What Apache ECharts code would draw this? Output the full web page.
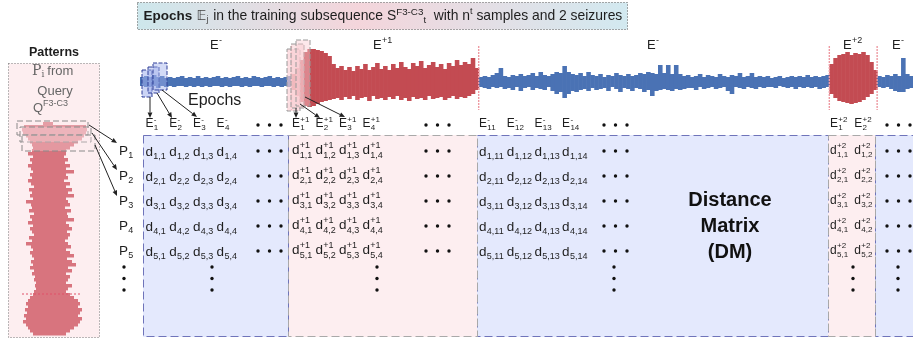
<!DOCTYPE html>
<html>
<head>
<meta charset="utf-8">
<script src="https://cdn.jsdelivr.net/npm/echarts@6.0.0/dist/echarts.min.js"></script>
<style>
  html, body { margin: 0; padding: 0; background: #fff; }
  #chart { width: 913px; height: 340px; }
</style>
</head>
<body>
<div id="chart"></div>
<script>
// ---- data ----
// EEG amplitude (up / down from baseline) per 4px sample, by segment
const interHi1 = [5,6,5,7,5,6,4,5,4,5,6,4,5,4,6,4,5,4,5,6,4,5,4,5,6,4,5,4,6,5,4,5,6,4,5,4,5,6];
const interLo1 = [4,5,5,4,6,4,5,4,5,4,4,5,4,5,4,5,4,5,4,4,5,4,5,4,4,5,4,5,4,4,5,4,4,5,4,5,4,5];
const seizureHi1 = [8,14,22,30,33,33,32,31,29,26,18,14,16,12,15,11,16,13,18,12,15,19,13,16,12,18,14,20,15,13,19,16,21,14,17,20,15,18,13,19,16,22,17,20,18,24,14];
const seizureLo1 = [8,14,20,24,25,24,22,20,19,18,17,16,18,15,17,14,18,16,15,19,14,17,16,18,15,17,14,18,16,19,15,17,16,18,14,17,16,15,18,16,14,17,15,16,14,12,8];
const interHi2 = [5,6,5,7,9,14,6,5,7,6,8,6,7,9,6,10,7,6,8,10,9,16,10,8,7,9,6,10,7,6,8,5,7,6,9,7,6,8,6,7,9,8,10,9,8,17,9,17,8,17,8,6,7,5,6,8,5,7,6,5,8,6,5,7,6,9,5,6,9,5,6,5,6,4,5,6,4,5,6,5,6,5,7,5,6,5,6,7];
const interLo2 = [5,6,7,5,6,5,7,6,8,5,9,6,5,8,6,7,8,5,9,12,10,16,12,9,10,8,7,9,6,8,7,6,9,5,7,10,6,7,9,6,7,10,8,14,9,8,7,8,9,7,8,7,6,6,8,5,7,6,5,7,6,5,9,12,5,6,7,5,6,7,5,6,5,5,6,4,5,6,5,7,5,6,5,6,5,7,6,5];
const seizureHi2 = [18,24,27,28,30,27,29,28,30,27,20,12];
const seizureLo2 = [12,16,19,20,21,22,21,20,18,15,12,8];
const interHi3 = [6,5,7,6,8,6,24,8,6];
const interLo3 = [5,6,5,7,9,10,10,7,6];

// query pattern (rotated), left / right extent per row
const patLeft = [35,16,14,15,18,20,22,24,25,24,20,25,22,24,20,23,25,22,24,20,23,26,21,24,22,25,18,23,24,21,26,22,24,20,25,22,24,26,21,24,18,23,25,22,24,26,23,25,22,26,24,27,26,28,27,28,26,25,22,20,18,20,17,19,16,18,15,18,20,22,25];
const patRight = [45,78,79,78,76,74,70,66,62,58,58,56,60,57,62,58,66,58,60,56,62,58,64,60,66,58,60,62,57,63,59,60,66,58,61,64,59,62,60,57,60,63,58,62,66,59,64,68,60,64,58,62,60,58,64,60,58,62,66,70,72,70,74,72,70,74,72,70,66,62,58];

// matrix labels
const rowIds = ['1', '2', '3', '4', '5'];
const groupSup = ['-', '+1', '-', '+2'];
const groupCols = [['1','2','3','4'], ['1','2','3','4'], ['11','12','13','14'], ['1','2']];
const groupSeizure = [false, true, false, true];
const segmentLabels = [['E', '-'], ['E', '+1'], ['E', '-'], ['E', '+2'], ['E', '-']];

// ---- styling / layout ----
const FONT = '"Liberation Sans", Arial, Helvetica, sans-serif';
const SERIF = '"DejaVu Serif", "Liberation Serif", serif';
const INK = '#1e1e1e';
const BLUE = '#4a72b4';
const RED = '#c34b52';
const MBLUE = '#e4e9fd', MPINK = '#fdeef0';
const BLUE_EDGE = '#6f74ba', GRAY_EDGE = '#a9a9a9';

const groupLayout = [
  { x0: 145.5, step: 23.7, dotsX: 258, vdotX: 212, x1: 143, x2: 288, dy: 0 },
  { x0: 292, step: 23.5, dotsX: 426, vdotX: 377, x1: 288, x2: 477, dy: -1.5 },
  { x0: 479, step: 27.7, dotsX: 604, vdotX: 614, x1: 477, x2: 828, dy: 0 },
  { x0: 830, step: 24.3, dotsX: 887, vdotX: 853, x1: 828, x2: 875, dy: -1.5 }
];
const rowY = [152, 177, 202, 227, 252];
const vdotY = [267, 278, 290];
const labelY = 124;
const matTop = 135, matBottom = 337;
const segLabelPos = [210, 373, 647, 843, 892];

// ---- build signal data ----
const signalSegs = [
  [interHi1, interLo1, 0], [seizureHi1, seizureLo1, 1], [interHi2, interLo2, 0],
  [seizureHi2, seizureLo2, 1], [interHi3, interLo3, 0]
];
const signalData = [];
const segStart = [];
signalSegs.forEach(([hi, lo, sz]) => {
  segStart.push(signalData.length);
  hi.forEach((h, k) => signalData.push([signalData.length, h, lo[k], sz]));
});
segStart.push(signalData.length);
const patternData = patLeft.map((l, i) => [i, l, patRight[i]]);

// ---- helpers ----
const mctx = document.createElement('canvas').getContext('2d');
function tw(t, size, weight, fam) {
  mctx.font = (weight || 'normal') + ' ' + size + 'px ' + (fam || FONT);
  return mctx.measureText(t).width;
}
function txt(x, y, t, size, color, o) {
  o = o || {};
  const al = o.align || 'left';
  return {
    type: 'text', x: x, y: y, z: o.z || 20, silent: true,
    style: {
      text: t, fontSize: size, fontFamily: o.family || FONT, fontWeight: o.weight || 'normal',
      fill: color || INK, align: al, verticalAlign: 'middle', textAlign: al, textVerticalAlign: 'middle'
    }
  };
}
function sym(x, y, base, sup, sub, o) {
  o = o || {};
  const bs = o.size || 13, ss = o.ss || 9, col = o.color || INK, fam = o.family || FONT;
  const w = tw(base, bs, 'normal', fam);
  const els = [txt(x, y, base, bs, col, { family: fam })];
  if (sup) els.push(txt(x + w + 0.3, y - bs * 0.36, sup, ss, col));
  if (sub) els.push(txt(x + w + 0.3, y + bs * 0.34, sub, ss, col));
  return els;
}
function seq(x, y, parts) {
  const els = [];
  parts.forEach(p => {
    const size = p.size || 13;
    els.push(txt(x, y + (p.dy || 0), p.t, size, p.color || INK, { weight: p.weight, family: p.family }));
    x += tw(p.t, size, p.weight, p.family) + (p.gap || 0);
  });
  return els;
}
function arrow(x1, y1, x2, y2) {
  const a = Math.atan2(y2 - y1, x2 - x1), L = 5.5, W = 2.4;
  const bx = x2 - L * Math.cos(a), by = y2 - L * Math.sin(a);
  return [
    { type: 'line', z: 25, silent: true, shape: { x1: x1, y1: y1, x2: bx, y2: by }, style: { stroke: '#222', lineWidth: 1 } },
    { type: 'polygon', z: 25, silent: true, shape: { points: [[x2, y2], [bx - W * Math.sin(a), by + W * Math.cos(a)], [bx + W * Math.sin(a), by - W * Math.cos(a)]] }, style: { fill: '#222' } }
  ];
}
function dots(x, y, horizontal) {
  return [0, 1, 2].map(k => ({
    type: 'circle', z: 20, silent: true,
    shape: { cx: horizontal ? x + k * 11.5 : x, cy: horizontal ? y : y + k * 11.5, r: 1.7 },
    style: { fill: '#111' }
  }));
}
function box(x, y, w, h, fill, stroke, dash, z) {
  return { type: 'rect', z: z || 5, silent: true, shape: { x: x, y: y, width: w, height: h },
    style: { fill: fill, stroke: stroke, lineWidth: 1, lineDash: dash || null } };
}

const chart = echarts.init(document.getElementById('chart'), null, { renderer: 'canvas' });

chart.setOption({
  animation: false,
  grid: [
    { left: 140, top: 32, width: 773, height: 100 },
    { left: 8, top: 122, width: 90, height: 213 }
  ],
  xAxis: [
    { gridIndex: 0, type: 'value', min: 0, max: signalData.length, show: false },
    { gridIndex: 1, type: 'value', min: 0, max: 90, show: false }
  ],
  yAxis: [
    { gridIndex: 0, type: 'value', min: -50, max: 50, show: false },
    { gridIndex: 1, type: 'value', min: 0, max: patternData.length, inverse: true, show: false }
  ],
  series: [
    {
      type: 'custom', xAxisIndex: 0, yAxisIndex: 0, z: 3,
      data: signalData,
      renderItem: function (params, api) {
        const i = api.value(0);
        const p1 = api.coord([i, api.value(1)]);
        const p2 = api.coord([i + 1, -api.value(2)]);
        return { type: 'rect', shape: { x: p1[0], y: p1[1], width: p2[0] - p1[0] + 0.6, height: p2[1] - p1[1] },
          style: { fill: api.value(3) ? RED : BLUE } };
      }
    },
    {
      type: 'custom', xAxisIndex: 1, yAxisIndex: 1, z: 3,
      data: patternData,
      renderItem: function (params, api) {
        const i = api.value(0);
        const p1 = api.coord([api.value(1), i]);
        const p2 = api.coord([api.value(2), i + 1]);
        return { type: 'rect', shape: { x: p1[0], y: p1[1], width: p2[0] - p1[0], height: p2[1] - p1[1] + 0.4 },
          style: { fill: '#d8747e' } };
      }
    }
  ]
});

// ---- annotations ----
const g = [];

// title
g.push({
  type: 'rect', z: 1, silent: true, shape: { x: 137.5, y: 2.5, width: 490, height: 27 },
  style: {
    fill: new echarts.graphic.LinearGradient(0, 0, 1, 0, [
      { offset: 0, color: '#cde7ec' }, { offset: 0.45, color: '#f4d5db' }, { offset: 1, color: '#d2e9f0' }
    ]),
    stroke: '#555', lineWidth: 1, lineDash: [1, 2]
  }
});
g.push(...seq(143.5, 16, [
  { t: 'Epochs', weight: 'bold', size: 13.5 },
  { t: ' 𝔼', size: 13.5, color: '#444', family: '"DejaVu Sans", sans-serif' },
  { t: 'j', size: 8.5, dy: 4, color: '#444', gap: 1 },
  { t: ' in the training subsequence S', size: 13.9 },
  { t: 'F3-C3', size: 9.8, dy: -4 },
  { t: 't', size: 9.5, dy: 4 },
  { t: '  with n', size: 13.9 },
  { t: 't', size: 9, dy: -4 },
  { t: ' samples and 2 seizures', size: 13.9 }
]));

// seizure boundaries on signal
const boundaryIdx = [segStart[1], segStart[2], segStart[3], segStart[4]];
boundaryIdx.forEach(idx => {
  const px = chart.convertToPixel({ gridIndex: 0 }, [idx, 0])[0];
  g.push({ type: 'line', z: 8, silent: true, shape: { x1: px, y1: 46, x2: px, y2: 110 },
    style: { stroke: '#ee9aa2', lineWidth: 1.4, lineDash: [2, 1] } });
});

// segment labels above the signal
segmentLabels.forEach((s, k) => g.push(...sym(segLabelPos[k], 45, s[0], s[1], null, { size: 13, ss: 9 })));
g.push(txt(188, 101, 'Epochs', 16, INK));

// epoch windows on the signal
g.push(box(142, 70, 10, 27, 'rgba(160,176,236,0.55)', '#2f3e98', [4, 1.5], 9));
g.push(box(148, 67, 11, 26, 'rgba(160,176,236,0.45)', '#2f3e98', [4, 1.5], 9));
g.push(box(153, 63, 14, 27, 'rgba(160,176,236,0.45)', '#2f3e98', [4, 1.5], 9));
g.push(box(287, 49, 13, 62, 'rgba(250,205,210,0.65)', '#9a9a9a', [5, 2], 9));
g.push(box(291, 44, 13, 64, 'rgba(250,205,210,0.55)', '#9a9a9a', [5, 2], 9));
g.push(box(296, 40, 14, 66, 'rgba(250,205,210,0.45)', '#9a9a9a', [5, 2], 9));
g.push(...arrow(150, 97, 150, 118));
g.push(...arrow(157, 93, 172, 118));
g.push(...arrow(162, 90, 197, 117));
g.push(...arrow(296, 108, 296, 118));
g.push(...arrow(300, 104, 320, 118));
g.push(...arrow(305, 97, 345, 117));

// left panel: patterns from query
g.push(txt(54, 53, 'Patterns', 12.5, INK, { weight: 'bold', align: 'center' }));
g.push(box(8.5, 63.5, 91, 274, MPINK, '#777', [1, 2], 1));
g.push(...seq(32, 71, [
  { t: 'P', size: 14, family: SERIF, color: '#666' },
  { t: 'i', size: 9, dy: 4, family: SERIF, color: '#666', gap: 3 },
  { t: 'from', size: 13, color: '#666' }
]));
g.push(txt(55, 91, 'Query', 13, '#666', { align: 'center' }));
g.push(...seq(33, 108, [
  { t: 'Q', size: 13, color: '#666' },
  { t: 'F3-C3', size: 9, dy: -4, color: '#666' }
]));
g.push(box(17, 121, 71, 14, 'rgba(255,236,239,0.35)', '#8a8a8a', [6, 3], 9));
g.push(box(20, 127, 71, 15, 'rgba(255,236,239,0.30)', '#8a8a8a', [6, 3], 9));
g.push(box(22, 135, 73, 16, 'rgba(255,236,239,0.30)', '#8a8a8a', [6, 3], 9));
g.push({ type: 'line', z: 9, silent: true, shape: { x1: 22, y1: 294, x2: 82, y2: 294 },
  style: { stroke: '#e05068', lineWidth: 1, lineDash: [2, 2] } });
g.push(...arrow(89, 125, 117, 143));
g.push(...arrow(92, 133, 117, 170));
g.push(...arrow(95, 145, 117, 196));

// distance matrix regions
const regions = groupLayout.map((L, k) => [L.x1, L.x2, groupSeizure[k]]);
regions.push([875, 914, false]);
regions.forEach(([x1, x2, sz]) => g.push(box(x1, matTop, x2 - x1, matBottom - matTop, sz ? MPINK : MBLUE, null, null, 2)));
regions.forEach(([x1, x2, sz]) => g.push(box(x1 + 0.5, matTop + 0.5, x2 - x1, matBottom - matTop - 1, null,
  sz ? GRAY_EDGE : BLUE_EDGE, [8, 4], sz ? 4 : 3)));

// row labels
rowIds.forEach((r, j) => g.push(...sym(119, rowY[j] - 1, 'P', null, r, { size: 13.5, ss: 9 })));
g.push(...dots(124, vdotY[0], false));

// columns and cells
groupCols.forEach((cols, k) => {
  const L = groupLayout[k];
  const sz = groupSeizure[k];
  const small = k === 3;
  cols.forEach((c, m) => {
    const x = L.x0 + m * L.step;
    g.push(...sym(x, labelY, 'E', groupSup[k], c, { size: 12, ss: 8 }));
    rowIds.forEach((r, j) => {
      g.push(...sym(x, rowY[j] + L.dy, 'd', sz ? groupSup[k] : null, r + ',' + c,
        { size: small ? 12 : 13.5, ss: small ? 8 : 9 }));
    });
  });
  g.push(...dots(L.dotsX, labelY + 1, true));
  rowIds.forEach((r, j) => g.push(...dots(L.dotsX, rowY[j] - 1, true)));
  g.push(...dots(L.vdotX, vdotY[0], false));
});
g.push(...dots(898, vdotY[0], false));

// matrix title
g.push(txt(730, 200, 'Distance', 20, '#111', { weight: 'bold', align: 'center' }));
g.push(txt(730, 226, 'Matrix', 20, '#111', { weight: 'bold', align: 'center' }));
g.push(txt(730, 252, '(DM)', 20, '#111', { weight: 'bold', align: 'center' }));

chart.setOption({ graphic: { elements: g } });

window.addEventListener('resize', () => chart.resize());
</script>
</body>
</html>
